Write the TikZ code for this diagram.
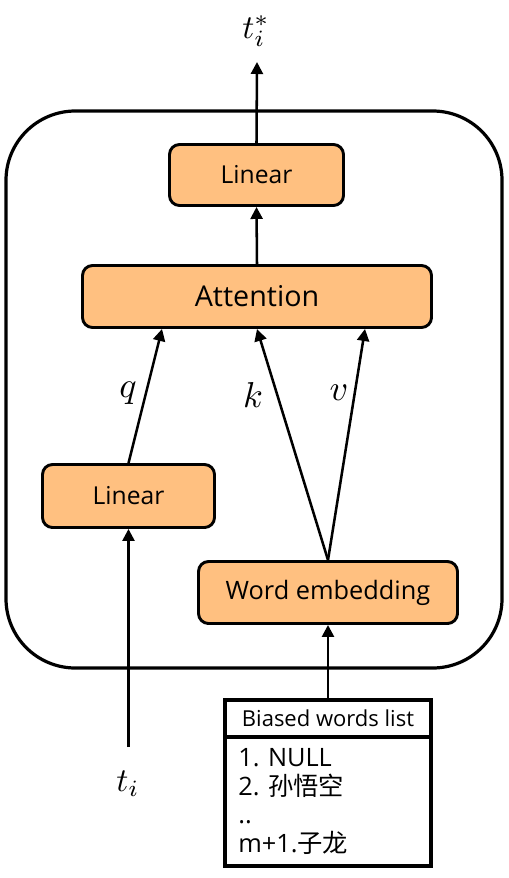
\documentclass[tikz,border=0pt]{standalone}
\usepackage{fontspec}
\setmainfont{Open Sans}
\newfontfamily\cjk{Noto Sans CJK SC}
\usetikzlibrary{arrows.meta,calc}
\definecolor{boxfill}{RGB}{255,192,128}
\tikzset{
  blk/.style={draw=black, line width=2.2pt, fill=boxfill, rounded corners=7.5pt, inner sep=0pt},
  arr/.style={line width=1.9pt, -{Triangle[length=9pt,width=9pt]}},
  lstbox/.style={draw=black, line width=3pt, inner sep=0pt},
  mathlbl/.style={inner sep=0pt},
}
\frenchspacing
\begin{document}
\begin{tikzpicture}[x=0.75pt,y=-0.75pt]
\useasboundingbox (0,0) rectangle (509,878);
\node[draw=black, line width=2.4pt, rounded corners=52pt, minimum width=372pt, minimum height=417.75pt, inner sep=0pt] (frame) at (254,389.5) {};

\node[blk, minimum width=130.5pt, minimum height=45.75pt, font=\fontsize{18.5}{20}\selectfont] (lin2) at (256.5,175) {Linear};
\node[blk, minimum width=261.75pt, minimum height=46.5pt, font=\fontsize{21.5}{24}\selectfont] (att) at (257,296.5) {Attention};
\node[blk, minimum width=129pt, minimum height=47.25pt, font=\fontsize{18.5}{20}\selectfont] (lin1) at (128.5,496) {Linear};
\node[blk, minimum width=194.25pt, minimum height=46.5pt, font=\fontsize{19}{22}\selectfont] (we) at (328,592.5) {Word embedding};

\node[lstbox, minimum width=154.5pt, minimum height=27.75pt, font=\fontsize{16.5}{19}\selectfont] (lh) at (328,718.5) {Biased words list};
\node[lstbox, minimum height=96.75pt, text width=134.5pt, inner xsep=10pt, align=left, font=\fontsize{19}{21.5}\selectfont] (lb) at (328,801.5) {1. NULL\\2. {\cjk 孙悟空}\\..\\m+1.{\cjk 子龙}};

\node[mathlbl] (tstar) at (256,31) {\scalebox{2.5}{$t_i^*$}};
\node[mathlbl] (ti) at (128,784) {\scalebox{2.5}{$t_i$}};
\node[mathlbl] (ql) at (128,393) {\scalebox{2.7}{$q$}};
\node[mathlbl] (kl) at (253,395) {\scalebox{2.7}{$k$}};
\node[mathlbl] (vl) at (339,393) {\scalebox{2.7}{$v$}};

\coordinate (otip) at (257,62);
\coordinate (tistart) at (128.5,747);
\draw[arr] (lin2.north) -- (otip);
\draw[arr] (att.north) -- (lin2.south);
\draw[arr] (lin1.north) -- ($(att.south)+(-95,0)$);
\draw[arr] (we.north) -- (att.south);
\draw[arr] (we.north) -- ($(att.south)+(108,0)$);
\draw[arr] (tistart) -- (lin1.south);
\draw[arr] (lh.north) -- (we.south);
\end{tikzpicture}
\end{document}
